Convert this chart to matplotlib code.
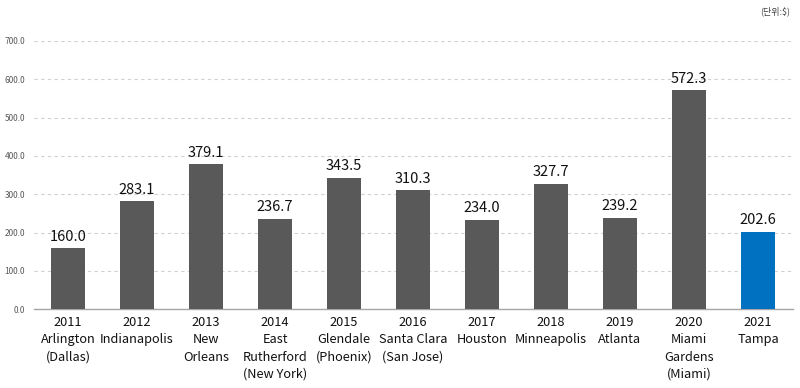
import matplotlib
matplotlib.use('Agg')
import matplotlib.pyplot as plt
import numpy as np

plt.rcParams['font.family'] = ['Noto Sans CJK KR', 'DejaVu Sans']

# Super Bowl hosts and values
years = ['2011', '2012', '2013', '2014', '2015', '2016', '2017', '2018', '2019', '2020', '2021']
cities = ['Arlington\n(Dallas)', 'Indianapolis', 'New\nOrleans', 'East\nRutherford\n(New York)',
          'Glendale\n(Phoenix)', 'Santa Clara\n(San Jose)', 'Houston', 'Minneapolis',
          'Atlanta', 'Miami\nGardens\n(Miami)', 'Tampa']
values = [160.0, 283.1, 379.1, 236.7, 343.5, 310.3, 234.0, 327.7, 239.2, 572.3, 202.6]
y_ticks = [0, 100, 200, 300, 400, 500, 600, 700]

colors = ['#595959'] * (len(values) - 1) + ['#0070C0']

fig = plt.figure(figsize=(8, 3.88), dpi=100)
ax = fig.add_axes([33.5 / 800, 1 - 309.3 / 388, 759 / 800, 268.3 / 388])

x = np.arange(len(values))
bars = ax.bar(x, values, width=0.48, color=colors, zorder=3)

for xi, v in zip(x, values):
    ax.text(xi, v + 11, f'{v:.1f}', ha='center', va='bottom', fontsize=10.5, color='#111111')

ax.set_xlim(-0.5, len(values) - 0.5)
ax.set_ylim(0, 700)
ax.set_yticks(y_ticks)
ax.set_yticklabels([f'{t:.1f}' for t in y_ticks], fontsize=6, color='#595959')
ax.yaxis.grid(True, linestyle=(0, (3, 3)), color='#d0d0d0', linewidth=0.8, zorder=0)
ax.set_axisbelow(True)

ax.set_xticks(x)
ax.set_xticklabels([f'{y}\n{c}' for y, c in zip(years, cities)], fontsize=9.2,
                   color='#111111', linespacing=1.42)
ax.tick_params(axis='both', length=0)
ax.tick_params(axis='y', pad=6)
ax.tick_params(axis='x', pad=5)

for s in ['top', 'right', 'left']:
    ax.spines[s].set_visible(False)
ax.spines['bottom'].set_color('#a6a6a6')
ax.spines['bottom'].set_linewidth(1.0)

fig.text(790 / 800, 1 - 11 / 388, '(단위:$)', ha='right', va='center', fontsize=6.5, color='#404040')

fig.savefig('out.png', dpi=100)
